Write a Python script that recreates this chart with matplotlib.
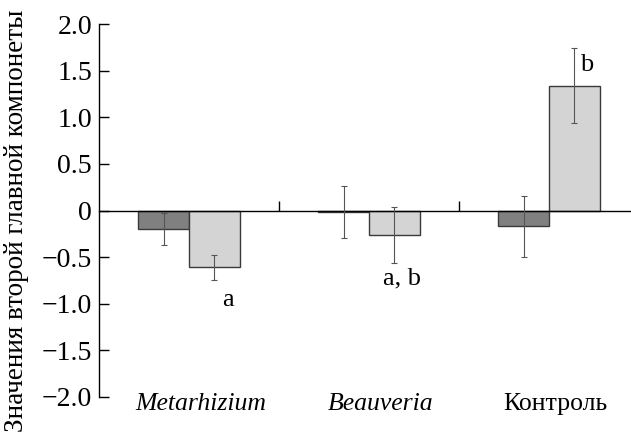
import numpy as np
import matplotlib
matplotlib.use('Agg')
import matplotlib.pyplot as plt
import matplotlib.transforms as mtransforms

plt.rcParams['font.family'] = ['Liberation Serif', 'DejaVu Serif']

# data
groups = ['Metarhizium', 'Beauveria', 'Контроль']
group_italic = [True, True, False]
dark_vals = [-0.20, -0.015, -0.17]
dark_err = [0.17, 0.28, 0.33]
light_vals = [-0.61, -0.26, 1.34]
light_err = [0.135, 0.30, 0.40]
letters = ['a', 'a, b', 'b']
letter_y = [-0.96, -0.73, 1.56]

ylabel = 'Значения второй главной компонеты'

fig = plt.figure(figsize=(6.31, 4.41), dpi=100)
ax = fig.add_axes([99/631, 1-397/441, 532/631, 373/441])

x = np.arange(len(groups)) + 0.5
w = 0.283
ax.bar(x - w/2, dark_vals, w, color='#808080', edgecolor='#3a3a3a', linewidth=1.0, zorder=2)
ax.bar(x + w/2, light_vals, w, color='#d4d4d4', edgecolor='#3a3a3a', linewidth=1.0, zorder=2)
ax.errorbar(x - w/2, dark_vals, yerr=dark_err, fmt='none', ecolor='#555555',
            elinewidth=0.8, capsize=2.5, capthick=0.8, zorder=3)
ax.errorbar(x + w/2, light_vals, yerr=light_err, fmt='none', ecolor='#555555',
            elinewidth=0.8, capsize=2.5, capthick=0.8, zorder=3)

# letters sit a little right of the light bar centre
dx = [0.075, 0.04, 0.065]
for i in range(len(groups)):
    ax.text(x[i] + w/2 + dx[i], letter_y[i], letters[i], ha='center', va='center', fontsize=19)

ax.set_xlim(0, 532/180)
ax.set_ylim(-2.0, 2.0)
ax.set_yticks([-2.0, -1.5, -1.0, -0.5, 0, 0.5, 1.0, 1.5, 2.0])
ax.set_yticklabels(['\u22122.0', '\u22121.5', '\u22121.0', '\u22120.5', '0',
                    '0.5', '1.0', '1.5', '2.0'])
ax.set_xticks([1.0, 2.0])
ax.set_xticklabels([])
ax.tick_params(axis='y', direction='in', length=7, width=1, labelsize=20, pad=5)
ax.tick_params(axis='x', direction='in', length=7, width=1)

ax.spines['top'].set_visible(False)
ax.spines['right'].set_visible(False)
ax.spines['bottom'].set_position(('data', 0))
ax.spines['bottom'].set_linewidth(1.0)
ax.spines['left'].set_linewidth(1.0)

trans = mtransforms.blended_transform_factory(ax.transData, ax.transAxes)
lx = [0.065, 0.065, 0.035]
for i, g in enumerate(groups):
    ax.text(x[i] + lx[i], -0.018, g, transform=trans, ha='center', va='center',
            fontsize=18.5, style='italic' if group_italic[i] else 'normal')

fig.text(17/631, 0.5, ylabel, rotation=90, ha='center', va='center', fontsize=19.5)

fig.savefig('out.png', dpi=100)
